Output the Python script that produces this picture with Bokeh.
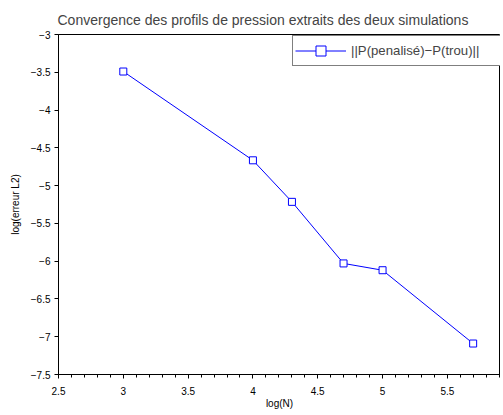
from bokeh.plotting import figure
from bokeh.models import FixedTicker, Legend, LegendItem, Range1d, ColumnDataSource
from bokeh.embed import file_html
from bokeh.resources import INLINE

# data
log_n = [3.0, 4.0, 4.301, 4.699, 5.0, 5.699]
log_err = [-3.49, -4.665, -5.215, -6.03, -6.12, -7.09]
x_ticks = [2.5, 3.0, 3.5, 4.0, 4.5, 5.0, 5.5]
x_labels = ["2.5", "3", "3.5", "4", "4.5", "5", "5.5"]
x_minor = [round(2.5 + 0.1 * i, 2) for i in range(35)]
y_ticks = [-3.0, -3.5, -4.0, -4.5, -5.0, -5.5, -6.0, -6.5, -7.0, -7.5]
y_labels = ["\u22123", "\u22123.5", "\u22124", "\u22124.5", "\u22125", "\u22125.5",
            "\u22126", "\u22126.5", "\u22127", "\u22127.5"]
series_label = "||P(penalis\u00e9)\u2212P(trou)||"
title_text = "Convergence des profils de pression extraits des deux simulations"

FONT = "Liberation Sans"

p = figure(width=500, height=411, output_backend="svg", toolbar_location=None,
           x_range=Range1d(2.5, 5.91), y_range=Range1d(-7.5, -3.0),
           min_border_left=58, min_border_right=0, min_border_top=34,
           min_border_bottom=37, title=title_text)
p.title.text_font = FONT
p.title.text_font_size = "14px"
p.title.text_font_style = "normal"
p.title.align = "left"
p.title.offset = -1
p.title.standoff = 14
p.grid.visible = False
p.outline_line_color = "black"
p.outline_line_width = 1

src = ColumnDataSource(dict(x=log_n, y=log_err))
ln = p.line("x", "y", source=src, line_color="#0000ff", line_width=1)
sc = p.scatter("x", "y", source=src, marker="square", size=7, fill_color="white",
               line_color="#0000ff", line_width=1)

xa = p.xaxis[0]
xa.ticker = FixedTicker(ticks=x_ticks, minor_ticks=x_minor)
xa.major_label_overrides = {t: l for t, l in zip(x_ticks, x_labels)}
xa.axis_label = "log(N)"
ya = p.yaxis[0]
ya.ticker = FixedTicker(ticks=y_ticks, minor_ticks=[])
ya.major_label_overrides = {t: l for t, l in zip(y_ticks, y_labels)}
ya.axis_label = "log(erreur L2)"
for ax in (xa, ya):
    ax.major_label_text_font = FONT
    ax.major_label_text_font_size = "10px"
    ax.axis_label_text_font = FONT
    ax.axis_label_text_font_size = "10px"
    ax.axis_label_text_font_style = "normal"
    ax.major_tick_in = 0
    ax.major_tick_out = 4
    ax.minor_tick_in = 0
    ax.minor_tick_out = 3
    ax.axis_line_color = "black"
    ax.major_tick_line_color = "black"
    ax.minor_tick_line_color = "black"
    ax.major_label_text_color = "black"
    ax.axis_label_text_color = "black"
xa.major_label_standoff = 8
xa.axis_label_standoff = 0
ya.major_label_standoff = 4
ya.axis_label_standoff = 7

legend = Legend(items=[LegendItem(label=series_label, renderers=[ln, sc])],
                location=(234, 308), padding=2, spacing=0, margin=0,
                glyph_width=51, glyph_height=25, label_height=25, label_width=170,
                label_standoff=5, label_text_font=FONT, label_text_font_size="13.2px",
                border_line_color="black", border_line_width=1,
                background_fill_color="white", background_fill_alpha=1.0)
p.add_layout(legend)

open("out.html", "w").write(file_html(p, INLINE))
